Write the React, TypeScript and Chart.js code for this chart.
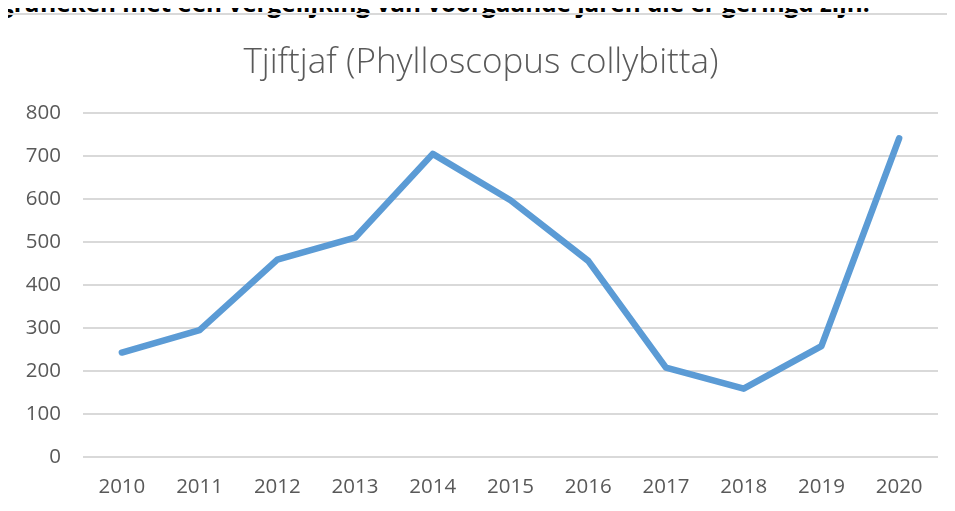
import React, { useEffect, useRef } from "react";
import { Chart, registerables } from "chart.js";

Chart.register(...registerables);

const years = ["2010", "2011", "2012", "2013", "2014", "2015", "2016", "2017", "2018", "2019", "2020"];
const counts = [243, 295, 459, 510, 705, 597, 456, 208, 159, 258, 741];
const yTicks = [0, 100, 200, 300, 400, 500, 600, 700, 800];
const chartTitle = "Tjiftjaf (Phylloscopus collybitta)";
const headerText = "grafieken met een vergelijking van voorgaande jaren die er geringd zijn.";

export default function App() {
  const ref = useRef<HTMLCanvasElement | null>(null);

  useEffect(() => {
    if (!ref.current) return;
    const chart = new Chart(ref.current, {
      type: "line",
      data: {
        labels: years,
        datasets: [
          {
            data: counts,
            borderColor: "#5b9bd5",
            borderWidth: 6.5,
            pointRadius: 0,
            borderCapStyle: "round",
            borderJoinStyle: "round",
            tension: 0,
            fill: false,
          },
        ],
      },
      options: {
        responsive: false,
        animation: false,
        layout: { padding: { left: 24, right: 17, top: 0, bottom: 0 } },
        plugins: {
          legend: { display: false },
          tooltip: { enabled: false },
          title: {
            display: true,
            text: chartTitle,
            color: "#595959",
            font: { family: "'Open Sans'", size: 35, weight: "300", lineHeight: 1.2 },
            padding: { top: 42, bottom: 29 },
          },
        },
        scales: {
          x: {
            type: "category",
            offset: true,
            grid: { display: false, drawTicks: false },
            border: { display: false },
            ticks: {
              color: "#595959",
              font: { family: "'Open Sans'", size: 20.5 },
              padding: 18,
              maxRotation: 0,
            },
            afterFit: (s: any) => {
              s.height = 54;
            },
          },
          y: {
            min: 0,
            max: 800,
            afterBuildTicks: (s: any) => {
              s.ticks = yTicks.map((v) => ({ value: v }));
            },
            grid: { color: "#d9d9d9", lineWidth: 2, drawTicks: false },
            border: { display: false },
            ticks: {
              color: "#595959",
              font: { family: "'Open Sans'", size: 20.5 },
              padding: 22,
            },
            afterFit: (s: any) => {
              s.width = 59;
            },
          },
        },
      },
    });
    return () => chart.destroy();
  }, []);

  return (
    <div
      style={{
        position: "relative",
        width: 955,
        height: 511,
        margin: "-8px 0 0 -8px",
        overflow: "hidden",
        background: "#fff",
      }}
    >
      <div
        style={{
          position: "absolute",
          left: 0,
          top: -9,
          fontFamily: "'Open Sans'",
          fontWeight: 700,
          fontSize: 24.3,
          lineHeight: "24px",
          whiteSpace: "nowrap",
          color: "#000",
        }}
      >
        {headerText}
      </div>
      <div
        style={{
          position: "absolute",
          left: 6,
          top: 13,
          width: 1000,
          height: 600,
          border: "2px solid #d9d9d9",
          boxSizing: "border-box",
        }}
      />
      <canvas
        ref={ref}
        width={955}
        height={511}
        style={{ position: "absolute", left: 0, top: 0, width: 955, height: 511 }}
      />
    </div>
  );
}
